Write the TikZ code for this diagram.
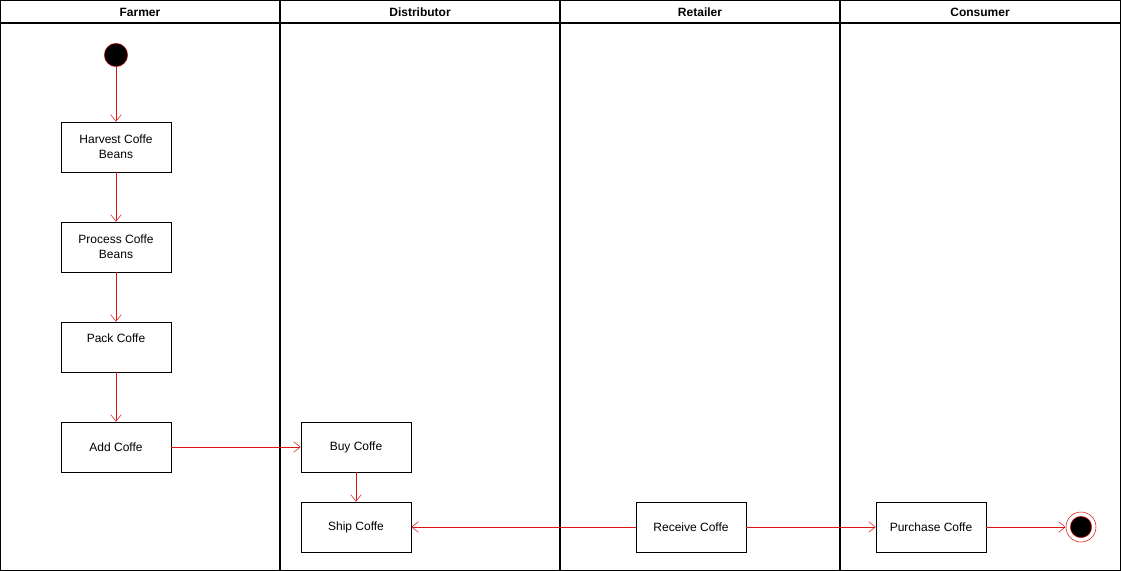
\documentclass[tikz,border=0pt]{standalone}
\usepackage{fontspec}
\setmainfont{Liberation Sans}
\usetikzlibrary{arrows.meta,positioning}
\definecolor{flow}{RGB}{220,20,20}
\begin{document}
\begin{tikzpicture}[x=0.75pt,y=-0.75pt,->,>={Straight Barb[length=5pt,width=8pt]},
                    font=\fontsize{9}{11}\selectfont,
                    activity/.style={draw,thin,fill=white,minimum width=82.5pt,minimum height=37.5pt,align=center},
                    startnode/.style={circle,fill=black,draw=flow,minimum size=17.5pt,inner sep=0pt},
                    endnode/.style={circle,draw=flow,fill=white,minimum size=22.5pt,inner sep=0pt,
                        path picture={\fill[black,draw=flow,thin] (path picture bounding box.center) circle (8pt);}},
                    lane/.style={-,draw,line width=0.8pt},
                    flowline/.style={draw=flow}]

        \useasboundingbox (0,0) rectangle (1121,571);
        % lanes
        \draw[lane] (0.5,0.5) rectangle (1120.5,570.5);
        \draw[lane] (0.5,23) -- (1120.5,23);
        \foreach \x in {280,560,840}
            \draw[lane] (\x,0.5) -- (\x,570.5);
        \foreach \x/\name in {140/Farmer,420/Distributor,700/Retailer,980/Consumer}
            \node[font=\fontsize{9}{11}\selectfont\bfseries] (head\name) at (\x,12) {\name};

        \node[startnode] (start) at (116,55) {};
        \node[activity] (harvest) at (116,147) {Harvest Coffe\\Beans};
        \node[activity] (process) at (116,247) {Process Coffe\\Beans};
        \node[activity] (pack) at (116,347) {Pack Coffe\\[3pt]~};
        \node[activity] (add) at (116,447) {Add Coffe};
        \node[activity] (buy) at (356,447) {Buy Coffe};
        \node[activity] (ship) at (356,527) {Ship Coffe};
        \node[activity] (receive) at (691,527) {Receive Coffe};
        \node[activity] (purchase) at (931,527) {Purchase Coffe};
        \node[endnode] (stop) at (1081,527) {};

        \path[flowline] (start) edge (harvest)
              (harvest) edge (process)
              (process) edge (pack)
              (pack) edge (add)
              (add) edge (buy)
              (buy) edge (ship)
              (receive) edge (ship)
                        edge (purchase)
              (purchase) edge (stop);
\end{tikzpicture}
\end{document}
